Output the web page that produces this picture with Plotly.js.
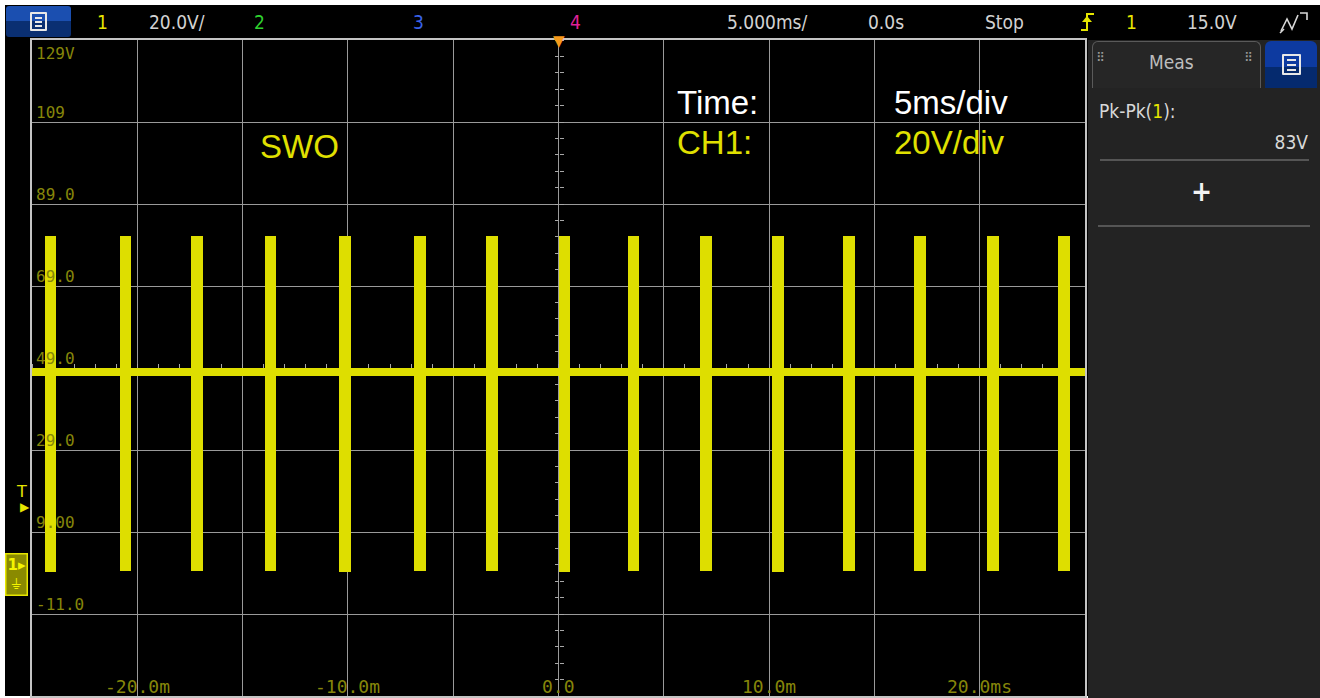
<!DOCTYPE html>
<html>
<head>
<meta charset="utf-8">
<script src="https://cdn.plot.ly/plotly-3.0.1.min.js"></script>
<style>
html,body{margin:0;padding:0;background:#fff;width:1320px;height:698px;overflow:hidden;}
#bg{position:absolute;left:5px;top:5px;width:1315px;height:691px;background:#000;}
#chart{position:absolute;left:0;top:0;width:1320px;height:698px;}
.tb{position:absolute;top:9px;font-family:"DejaVu Sans Condensed","DejaVu Sans",sans-serif;font-size:19px;color:#d2d2d2;line-height:26px;white-space:nowrap;}
#menu{position:absolute;left:6px;top:6px;width:65px;height:31px;border-radius:3px;background:linear-gradient(#1b4fb0 0%,#1b4fb0 50%,#0a2f72 50%,#0a2f72 100%);}
.icon{position:absolute;width:17px;height:19px;border:2px solid #e8e8e8;border-radius:1px;box-sizing:border-box;}
.icon i{position:absolute;left:3px;width:7px;height:2px;background:#e8e8e8;}
#panel{position:absolute;left:1088px;top:40px;width:232px;height:658px;background:#232323;}
#tab{position:absolute;left:1092px;top:41px;width:169px;height:47px;border:1px solid #5a5a5a;border-bottom:none;border-radius:6px 6px 0 0;background:#262626;box-sizing:border-box;}
#blue{position:absolute;left:1265px;top:41px;width:52px;height:47px;border-radius:6px 6px 0 0;background:linear-gradient(#0d3aa0 0%,#0d3aa0 55%,#052a6e 55%,#052a6e 100%);}
.pt{position:absolute;font-family:"DejaVu Sans Condensed","DejaVu Sans",sans-serif;color:#d8d8d8;white-space:nowrap;}
.hr{position:absolute;height:2px;background:#555;}
</style>
</head>
<body>
<div id="bg"></div>
<div id="chart"></div>

<!-- top status bar -->
<div id="menu"><div class="icon" style="left:24px;top:6px;"><i style="top:3px"></i><i style="top:7px"></i><i style="top:11px"></i></div></div>
<div class="tb" style="left:97px;color:#e6e600;">1</div>
<div class="tb" style="left:149px;">20.0V/</div>
<div class="tb" style="left:254px;color:#2fd22f;">2</div>
<div class="tb" style="left:413px;color:#3a62e8;">3</div>
<div class="tb" style="left:570px;color:#e0209a;">4</div>
<div class="tb" style="left:727px;">5.000ms/</div>
<div class="tb" style="left:868px;">0.0s</div>
<div class="tb" style="left:985px;">Stop</div>
<svg style="position:absolute;left:1079px;top:10px;" width="18" height="24" viewBox="0 0 18 24">
  <path d="M2 20 H8 V4 H15" fill="none" stroke="#e6e600" stroke-width="2"/>
  <path d="M3 12 L8 6 L13 12 Z" fill="#e6e600"/>
</svg>
<div class="tb" style="left:1126px;color:#e6e600;">1</div>
<div class="tb" style="left:1187px;">15.0V</div>
<svg style="position:absolute;left:1278px;top:9px;" width="32" height="26" viewBox="0 0 32 26">
  <path d="M3 22 L9 10 L14 20 L20 6" fill="none" stroke="#d8d8d8" stroke-width="1.6"/>
  <path d="M22 4 H29 V11" fill="none" stroke="#d8d8d8" stroke-width="1.6"/>
  <path d="M2 24 L6 20" fill="none" stroke="#d8d8d8" stroke-width="1.6"/>
</svg>

<!-- right measurement panel -->
<div id="panel"></div>
<div id="tab"></div>
<div class="pt" style="left:1096px;top:50px;font-size:13px;color:#9a9a9a;letter-spacing:-1px;">⠿</div>
<div class="pt" style="left:1244px;top:50px;font-size:13px;color:#9a9a9a;letter-spacing:-1px;">⠿</div>
<div class="pt" style="left:1149px;top:51px;font-size:19px;color:#bdbdbd;">Meas</div>
<div id="blue"><div class="icon" style="left:17px;top:13px;width:19px;height:21px;"><i style="top:3px;width:9px"></i><i style="top:8px;width:9px"></i><i style="top:13px;width:9px"></i></div></div>
<div class="pt" style="left:1099px;top:100px;font-size:19px;">Pk-Pk(<span style="color:#e6e600">1</span>):</div>
<div class="pt" style="right:12px;top:131px;font-size:19px;">83V</div>
<div class="hr" style="left:1100px;top:159px;width:209px;"></div>
<div class="pt" style="left:1191px;top:175px;font-size:28px;font-weight:bold;color:#f2f2f2;">+</div>
<div class="hr" style="left:1098px;top:225px;width:212px;"></div>

<script>
// ---- data (time in ms, voltage in V) ----
const burstTimes = [-24.12, -20.56, -17.17, -13.68, -10.14, -6.58, -3.16, 0.28, 3.56, 7.00, 10.42, 13.80, 17.15, 20.63, 24.00];
const burstHigh  = [81.2, 81.2, 81.3, 81.1, 81.2, 81.2, 81.3, 81.2, 81.1, 81.2, 81.2, 81.2, 81.3, 81.2, 81.2];
const burstLow   = [-0.7, -0.6, -0.5, -0.6, -0.7, -0.6, -0.6, -0.7, -0.6, -0.6, -0.7, -0.6, -0.6, -0.6, -0.6];
const baselineT  = [-25, 25];
const baselineV  = [48.0, 48.0];

const xTickVals  = [-20, -10, 0, 10, 20];
const xTickText  = ['-20.0m', '-10.0m', '0.0', '10.0m', '20.0ms'];
const yTickVals  = [129, 109, 89, 69, 49, 29, 9, -11];
const yTickText  = ['129V', '109', '89.0', '69.0', '49.0', '29.0', '9.00', '-11.0'];

const groundLevel  = 0;
const triggerLevel = 15;

const YEL = '#dede00';
const LBL = '#86860a';
const MONO = '"DejaVu Sans Mono", "Liberation Mono", monospace';
const SANS = '"Liberation Sans", Arial, sans-serif';

const traces = [
  {
    type: 'bar',
    x: burstTimes,
    base: burstLow,
    y: burstHigh.map((h, i) => h - burstLow[i]),
    width: 0.56,
    marker: {color: YEL, line: {width: 0}},
    hoverinfo: 'skip',
    showlegend: false
  },
  {
    type: 'scatter',
    mode: 'lines',
    x: baselineT,
    y: baselineV,
    line: {color: YEL, width: 8},
    hoverinfo: 'skip',
    showlegend: false
  },
  // empty traces so the centre cross-hair tick axes are drawn
  {type: 'scatter', mode: 'lines', x: [null], y: [null], xaxis: 'x', yaxis: 'y2', hoverinfo: 'skip', showlegend: false},
  {type: 'scatter', mode: 'lines', x: [null], y: [null], xaxis: 'x', yaxis: 'y3', hoverinfo: 'skip', showlegend: false},
  {type: 'scatter', mode: 'lines', x: [null], y: [null], xaxis: 'x2', yaxis: 'y', hoverinfo: 'skip', showlegend: false}
];

const annotations = [];
yTickVals.forEach((v, i) => {
  annotations.push({
    xref: 'paper', yref: 'y', x: 0, y: v,
    xanchor: 'left', yanchor: i === 0 ? 'top' : 'bottom',
    xshift: 2, yshift: -2,
    text: yTickText[i], showarrow: false,
    font: {family: MONO, size: 16, color: LBL}
  });
});
xTickVals.forEach((v, i) => {
  annotations.push({
    xref: 'x', yref: 'paper', x: v, y: 0,
    xanchor: 'center', yanchor: 'bottom', yshift: -3,
    text: xTickText[i], showarrow: false,
    font: {family: MONO, size: 18, color: LBL}
  });
});
annotations.push(
  {xref: 'paper', yref: 'paper', x: 0.2146, y: 0.837, xanchor: 'left', yanchor: 'middle',
   text: 'SWO', showarrow: false, font: {family: SANS, size: 33, color: '#e0e000'}},
  {xref: 'paper', yref: 'paper', x: 0.6106, y: 0.904, xanchor: 'left', yanchor: 'middle',
   text: 'Time:', showarrow: false, font: {family: SANS, size: 33, color: '#ffffff'}},
  {xref: 'paper', yref: 'paper', x: 0.8167, y: 0.904, xanchor: 'left', yanchor: 'middle',
   text: '5ms/div', showarrow: false, font: {family: SANS, size: 33, color: '#ffffff'}},
  {xref: 'paper', yref: 'paper', x: 0.6106, y: 0.8445, xanchor: 'left', yanchor: 'middle',
   text: 'CH1:', showarrow: false, font: {family: SANS, size: 33, color: '#e0e000'}},
  {xref: 'paper', yref: 'paper', x: 0.8167, y: 0.8445, xanchor: 'left', yanchor: 'middle',
   text: '20V/div', showarrow: false, font: {family: SANS, size: 33, color: '#e0e000'}},
  {xref: 'x', yref: 'paper', x: 0, y: 1, xanchor: 'center', yanchor: 'middle', yshift: -1,
   text: '▼', showarrow: false, font: {family: 'DejaVu Sans', size: 15, color: '#f59a1c'}},
  {xref: 'paper', yref: 'y', x: -0.0095, y: triggerLevel, xanchor: 'center', yanchor: 'bottom', yshift: 4,
   text: 'T', showarrow: false, font: {family: 'DejaVu Sans', size: 16, color: '#e6e600'}},
  {xref: 'paper', yref: 'y', x: -0.0065, y: triggerLevel, xanchor: 'center', yanchor: 'middle',
   text: '▶', showarrow: false, font: {family: 'DejaVu Sans', size: 12, color: '#e6e600'}},
  {xref: 'paper', yref: 'y', x: -0.0145, y: groundLevel, xanchor: 'center', yanchor: 'middle', yshift: -6,
   text: '<b>1</b>▸<br>⏚', showarrow: false, align: 'center',
   bgcolor: '#8a8a00', bordercolor: '#e6e600', borderwidth: 1.5, borderpad: 1,
   font: {family: 'DejaVu Sans', size: 15, color: '#f4f400'}}
);

const axisCommon = {showticklabels: false, zeroline: false, fixedrange: true};

const layout = {
  width: 1320, height: 698,
  margin: {l: 32, r: 235, t: 40, b: 2, pad: 0},
  paper_bgcolor: 'rgba(0,0,0,0)',
  plot_bgcolor: '#000000',
  showlegend: false,
  bargap: 0,
  xaxis: Object.assign({}, axisCommon, {
    range: [-25, 25], tick0: 0, dtick: 5, ticks: '',
    showgrid: true, gridcolor: '#9a9a9a', gridwidth: 1,
    showline: true, mirror: true, linecolor: '#c4c4c4', linewidth: 2
  }),
  yaxis: Object.assign({}, axisCommon, {
    range: [-31, 129], tick0: 9, dtick: 20, ticks: '',
    showgrid: true, gridcolor: '#9a9a9a', gridwidth: 1,
    showline: true, mirror: true, linecolor: '#c4c4c4', linewidth: 2
  }),
  yaxis2: Object.assign({}, axisCommon, {
    overlaying: 'y', anchor: 'free', position: 0.5, side: 'left', layer: 'below traces',
    range: [-31, 129], tick0: -31, dtick: 4, ticks: 'outside', ticklen: 4, tickwidth: 1,
    tickcolor: '#a8a8a8', showgrid: false, showline: false
  }),
  yaxis3: Object.assign({}, axisCommon, {
    overlaying: 'y', anchor: 'free', position: 0.5, side: 'right', layer: 'below traces',
    range: [-31, 129], tick0: -31, dtick: 4, ticks: 'outside', ticklen: 4, tickwidth: 1,
    tickcolor: '#a8a8a8', showgrid: false, showline: false
  }),
  xaxis2: Object.assign({}, axisCommon, {
    overlaying: 'x', anchor: 'free', position: 0.5, side: 'top', layer: 'below traces',
    range: [-25, 25], tick0: 0, dtick: 1, ticks: 'outside', ticklen: 4, tickwidth: 1,
    tickcolor: '#a8a8a8', showgrid: false, showline: false
  }),
  annotations: annotations
};

Plotly.newPlot('chart', traces, layout, {staticPlot: true, displayModeBar: false});
</script>
</body>
</html>
